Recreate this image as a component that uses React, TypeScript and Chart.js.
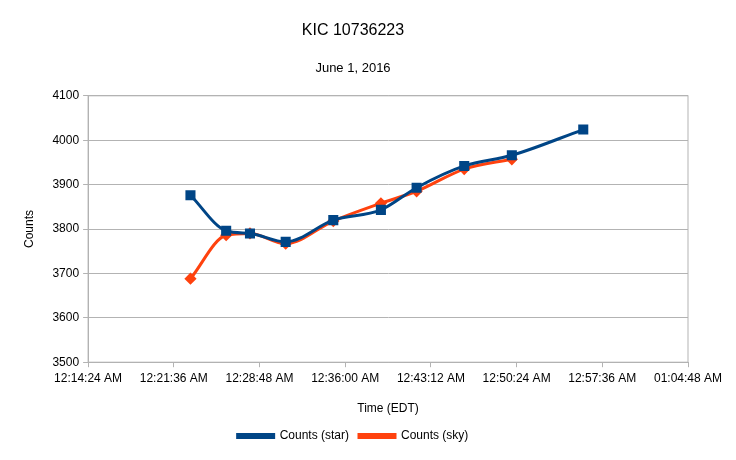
import { useEffect, useRef } from "react"
import { Chart, registerables } from "chart.js"

Chart.register(...registerables)

// time in seconds after midnight
const starTimes = [1380, 1560, 1680, 1860, 2100, 2340, 2520, 2760, 3000, 3360]
const starCounts = [3876, 3796, 3790, 3771, 3820, 3843, 3893, 3942, 3966, 4024]
const skyTimes = [1380, 1560, 1680, 1860, 2100, 2340, 2520, 2760, 3000]
const skyCounts = [3688, 3786, 3790, 3767, 3818, 3858, 3885, 3935, 3957]
const xTicks = [864, 1296, 1728, 2160, 2592, 3024, 3456, 3888]

const fmt = (s: number) => {
  const h = Math.floor(s / 3600)
  const m = Math.floor((s % 3600) / 60)
  const sec = Math.round(s % 60)
  const p = (n: number) => String(n).padStart(2, "0")
  return `${h === 0 ? 12 : p(h)}:${p(m)}:${p(sec)} AM`
}

export default function App() {
  const chartRef = useRef<HTMLCanvasElement>(null)
  const chartInstance = useRef<Chart | null>(null)

  useEffect(() => {
    document.body.style.margin = "0"
    if (!chartRef.current) return
    if (chartInstance.current) chartInstance.current.destroy()
    const ctx = chartRef.current.getContext("2d")
    if (!ctx) return
    Chart.defaults.font.family = "'Liberation Sans', Arial, sans-serif"
    Chart.defaults.color = "#000"

    chartInstance.current = new Chart(ctx, {
      type: "line",
      data: {
        datasets: [
          {
            label: "Counts (star)",
            data: starTimes.map((t, i) => ({ x: t, y: starCounts[i] })),
            borderColor: "#004586",
            backgroundColor: "#004586",
            borderWidth: 3,
            pointStyle: "rect",
            pointRadius: 5,
            tension: 0.4,
            cubicInterpolationMode: "monotone",
          },
          {
            label: "Counts (sky)",
            data: skyTimes.map((t, i) => ({ x: t, y: skyCounts[i] })),
            borderColor: "#ff420e",
            backgroundColor: "#ff420e",
            borderWidth: 3,
            pointStyle: "rectRot",
            pointRadius: 4,
            tension: 0.4,
            cubicInterpolationMode: "monotone",
          },
        ],
      },
      options: {
        animation: false,
        responsive: false,
        layout: { padding: { left: 18, right: 48, top: 0, bottom: 8 } },
        plugins: {
          title: { display: true, text: "KIC 10736223", font: { size: 16, weight: "normal" }, padding: { top: 21, bottom: 20 } },
          subtitle: { display: true, text: "June 1, 2016", font: { size: 13 }, padding: { bottom: 20 } },
          legend: {
            position: "bottom",
            labels: { font: { size: 12 }, boxWidth: 36, boxHeight: 3 },
          },
          tooltip: { enabled: false },
        },
        scales: {
          x: {
            type: "linear",
            min: 864,
            max: 3888,
            afterBuildTicks: (axis: any) => {
              axis.ticks = xTicks.map((v) => ({ value: v }))
            },
            ticks: { callback: (v: any) => fmt(Number(v)), maxRotation: 0, font: { size: 12 }, padding: 4 },
            grid: { drawOnChartArea: false, color: "#b3b3b3", tickLength: 5 },
            border: { color: "#b3b3b3" },
            title: { display: true, text: "Time (EDT)", font: { size: 12 }, padding: { top: 12 } },
          },
          y: {
            min: 3500,
            max: 4100,
            ticks: { stepSize: 100, font: { size: 12 }, padding: 4, callback: (v: any) => String(v) },
            grid: { color: "#b3b3b3", tickLength: 5 },
            border: { color: "#b3b3b3" },
            title: { display: true, text: "Counts", font: { size: 12 }, padding: { bottom: 12 } },
          },
        },
      },
      plugins: [
        {
          id: "frame",
          afterDraw: (c: any) => {
            const a = c.chartArea
            const g = c.ctx
            g.save()
            g.strokeStyle = "#b3b3b3"
            g.lineWidth = 1
            g.strokeRect(a.left, a.top, a.right - a.left, a.bottom - a.top)
            g.restore()
          },
        },
      ],
    })

    return () => {
      if (chartInstance.current) chartInstance.current.destroy()
    }
  }, [])

  return <canvas ref={chartRef} width={736} height={460} />
}
